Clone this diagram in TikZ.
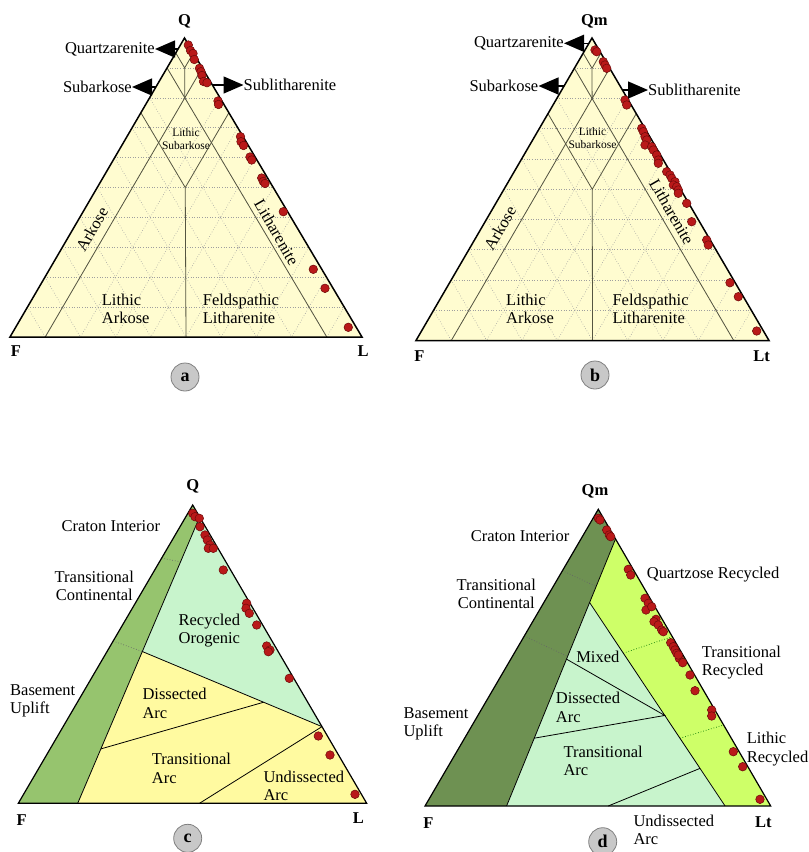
\documentclass[tikz,border=0pt]{standalone}
\usepackage{fontspec}
\setmainfont{Liberation Serif}
\usetikzlibrary{arrows.meta,calc}
\definecolor{folkyellow}{RGB}{255,252,208}
\definecolor{zoneline}{RGB}{85,85,65}
\definecolor{dotred}{RGB}{185,25,25}
\definecolor{dotrim}{RGB}{110,10,10}
\definecolor{craton}{RGB}{150,196,110}
\definecolor{cratondark}{RGB}{110,145,82}
\definecolor{recmint}{RGB}{200,244,204}
\definecolor{arcyellow}{RGB}{255,250,160}
\definecolor{reclime}{RGB}{206,255,104}
\definecolor{tagfill}{RGB}{200,200,200}
\newcommand{\lblsize}{\fontsize{16.5}{18.5}\selectfont}
\newcommand{\tinysize}{\fontsize{11.5}{13}\selectfont}
\tikzset{>=latex}

\begin{document}
\begin{tikzpicture}[x=1pt,y=-1pt,
  lab/.style={font=\lblsize,inner sep=0pt,align=center},
  labl/.style={lab,align=left,anchor=west},
  sublab/.style={font=\tinysize,inner sep=0pt,align=center},
  corner/.style={font=\lblsize\bfseries,inner sep=0pt},
  tag/.style={circle,fill=tagfill,draw=gray,line width=0.8pt,minimum size=28pt,inner sep=0pt,font=\fontsize{18}{18}\selectfont\bfseries},
  zone/.style={draw=zoneline,line width=0.8pt},
  rim/.style={draw=black,line width=1.5pt},
  grid/.style={draw=gray!75,dotted,line width=0.6pt},
  sep/.style={draw=black!60,dotted,line width=0.7pt},
  bigarrow/.style={-{Triangle[length=20pt,width=17pt]},line width=1.4pt},
  dot/.style={fill=dotred,draw=dotrim,line width=0.5pt}]

\useasboundingbox (0,0) rectangle (809,852);

% triangle corners
\coordinate (aF) at (10,337); \coordinate (aL) at (362,337); \coordinate (aQ) at (184.5,38);
\coordinate (bF) at (416,340.5); \coordinate (bL) at (769,340.5); \coordinate (bQ) at (592,38);
\coordinate (cF) at (18.3,803.3); \coordinate (cL) at (366.7,803.3); \coordinate (cQ) at (192.7,505);
\coordinate (dF) at (425,806); \coordinate (dL) at (770.7,806); \coordinate (dQ) at (598.3,509.3);

% panels a and b
\foreach \p in {a,b} {
  \coordinate (F) at (\p F); \coordinate (L) at (\p L); \coordinate (Q) at (\p Q);
  \fill[folkyellow] (F) -- (L) -- (Q) -- cycle;
  \foreach \u in {0.1,0.2,...,0.9} {
    \draw[grid] ($(F)!\u!(Q)$) -- ($(L)!\u!(Q)$);
    \draw[grid] ($(Q)!\u!(F)$) -- ($(L)!\u!(F)$);
    \draw[grid] ($(Q)!\u!(L)$) -- ($(F)!\u!(L)$);
  }
  \draw[zone] (barycentric cs:Q=0.95,F=0.05) -- (barycentric cs:Q=0.9,F=0.05,L=0.05) -- (barycentric cs:Q=0.95,L=0.05);
  \draw[zone] (barycentric cs:Q=0.9,F=0.05,L=0.05) -- (barycentric cs:Q=0.8,F=0.1,L=0.1);
  \draw[zone] (barycentric cs:Q=0.9,F=0.1) -- (barycentric cs:F=0.1,L=0.9);
  \draw[zone] (barycentric cs:Q=0.9,L=0.1) -- (barycentric cs:F=0.9,L=0.1);
  \draw[zone] (barycentric cs:Q=0.75,F=0.25) -- (barycentric cs:Q=0.5,F=0.25,L=0.25) -- (barycentric cs:Q=0.75,L=0.25);
  \draw[zone] (barycentric cs:Q=0.5,F=0.25,L=0.25) -- (barycentric cs:F=0.5,L=0.5);
  \draw[rim] (F) -- (L) -- (Q) -- cycle;
}

% panel c
\coordinate (cS) at ($(cF)!0.1705!(cL)$);
\coordinate (cT) at ($(cQ)!0.04!(cL)$);
\coordinate (cA) at ($(cS)!0.53!(cT)$);
\coordinate (cB) at ($(cL)!0.257!(cQ)$);
\coordinate (cC) at ($(cA)!0.675!(cB)$);
\coordinate (cD) at ($(cS)!0.19!(cT)$);
\coordinate (cE) at ($(cF)!0.52!(cL)$);
\fill[craton] (cF) -- (cQ) -- (cT) -- (cS) -- cycle;
\fill[recmint] (cT) -- (cA) -- (cB) -- cycle;
\fill[arcyellow] (cS) -- (cA) -- (cB) -- (cL) -- cycle;
\draw[sep] ($(cF)!0.822!(cQ)$) -- ($(cS)!0.843!(cT)$);
\draw[sep] ($(cF)!0.544!(cQ)$) -- (cA);
\draw[zone,draw=black] (cS) -- (cT);
\draw[zone,draw=black] (cA) -- (cB);
\draw[zone,draw=black] (cD) -- (cC);
\draw[zone,draw=black] (cE) -- (cB);
\draw[rim,line width=1.2pt] (cF) -- (cL) -- (cQ) -- cycle;

% panel d
\coordinate (dT) at ($(dQ)!0.1!(dL)$);
\coordinate (dS) at ($(dF)!0.236!(dL)$);
\coordinate (dM) at ($(dS)!0.762!(dT)$);
\coordinate (dN) at ($(dF)!0.868!(dL)$);
\coordinate (dP) at ($(dN)!0.445!(dM)$);
\coordinate (dX) at ($(dS)!0.55!(dT)$);
\coordinate (dY) at ($(dS)!0.254!(dT)$);
\coordinate (dZ) at ($(dF)!0.53!(dL)$);
\coordinate (dW) at ($(dN)!0.185!(dM)$);
\fill[cratondark] (dF) -- (dQ) -- (dT) -- (dS) -- cycle;
\fill[reclime] (dT) -- (dL) -- (dN) -- (dM) -- cycle;
\fill[recmint] (dM) -- (dN) -- (dS) -- cycle;
\draw[sep] ($(dF)!0.793!(dQ)$) -- ($(dS)!0.822!(dT)$);
\draw[sep] ($(dF)!0.573!(dQ)$) -- ($(dS)!0.56!(dT)$);
\draw[sep,draw=green!45!black] ($(dN)!0.751!(dM)$) -- ($(dL)!0.571!(dQ)$);
\draw[sep,draw=green!45!black] ($(dN)!0.333!(dM)$) -- ($(dL)!0.273!(dQ)$);
\draw[zone,draw=black] (dS) -- (dT);
\draw[zone,draw=black] (dM) -- (dN);
\draw[zone,draw=black] (dX) -- (dP) -- (dY);
\draw[zone,draw=black] (dZ) -- (dW);
\draw[rim,line width=1.2pt] (dF) -- (dL) -- (dQ) -- cycle;

% samples
\foreach \x/\y in {188.3/45,190.5/50.5,193/53.5,194.3/59.5,199.5/68.3,201/71.7,202/75.5,203.5/81.5,207/82.7,
  218/101,218.5/104.5,240.5/136.7,241/141.7,243.5/145.5,250/157,251.7/160,261.7/178,263.3/181.5,265/183.5,
  283.3/211.7,313.3/269.3,325/288.3,348.3/327.3}
  \filldraw[dot] (\x,\y) circle (4.3);
\foreach \x/\y in {595/50,596.7/51.7,603.3/61.7,605/65,606.7/68.3,625/100,626.7/105,641.7/128.3,643.3/131.7,
  645/136.7,646.7/140,645/145,651.7/146.7,653.3/150,656.7/155,658.3/160,658.3/163.3,666.7/171.7,670/175,
  671.7/178.3,675/181.7,673.3/185,676.7/186.7,678.3/190,678.3/193.3,686.7/203.3,691.7/221.7,706.7/240,
  708.3/245,730/282.7,738.3/296.7,756.7/331}
  \filldraw[dot] (\x,\y) circle (4.3);
\foreach \x/\y in {192.7/513.3,195/516.7,199.3/518.3,200/526.7,205/535,207.3/540,210/545,208.3/548.3,213.3/548.3,
  223.3/570,246.7/603.3,246/608.3,249.3/613.3,256.7/625,266.7/646,270/650,268.3/651.7,289.3/678.3,
  318.3/736,330/755,355/794.3}
  \filldraw[dot] (\x,\y) circle (4.3);
\foreach \x/\y in {598.3/518.3,600/520,606.7/530,609.3/535,610.7/536.7,628.3/569.3,630.7/575,645/598.3,648.3/603.3,
  646/610,651.7/606.7,656/619.3,654/621.7,658.3/625,661.7/630,663.3/631.7,670.7/642.7,673.3/646.7,675/650,
  676.7/653.3,679.3/658.3,682.7/662.7,678.3/655,690/675,695/690.7,711.7/710,711.7/716,733.3/751.7,
  742.7/766.7,760/799.3}
  \filldraw[dot] (\x,\y) circle (4.3);

% labels a
\node[corner] (aQl) at (184.5,21.7) {Q};
\node[corner] (aFl) at (16,351) {F};
\node[corner] (aLl) at (363,351) {L};
\node[tag] (atag) at (185,377) {a};
\node[lab,anchor=east] (aqz) at (155,49) {Quartzarenite};
\node[lab,anchor=east] (asa) at (132,87) {Subarkose};
\node[lab,anchor=west] (asl) at (243.5,85) {Sublitharenite};
\coordinate (aqz-s) at (178,49);
\coordinate (asa-s) at (156,87);
\coordinate (asl-s) at (212,85);
\draw[bigarrow] (aqz-s) -- (aqz.east);
\draw[bigarrow] (asa-s) -- (asa.east);
\draw[bigarrow] (asl-s) -- (asl.west);
\node[sublab] (als) at (186,139.5) {Lithic\\Subarkose};
\node[lab,rotate=60] (aark) at (92,229) {Arkose};
\node[lab,rotate=-60] (alit) at (276.7,232.3) {Litharenite};
\node[labl] (ala) at (101.7,309) {Lithic\\Arkose};
\node[labl] (afl) at (202.7,309) {Feldspathic\\Litharenite};

% labels b
\node[corner] (bQl) at (594.3,21.7) {Qm};
\node[corner] (bFl) at (419.3,356) {F};
\node[corner] (bLl) at (761.7,356) {Lt};
\node[tag] (btag) at (595,375) {b};
\node[lab,anchor=east] (bqz) at (564,43.3) {Quartzarenite};
\node[lab,anchor=east] (bsa) at (538.5,86) {Subarkose};
\node[lab,anchor=west] (bsl) at (648,90) {Sublitharenite};
\coordinate (bqz-s) at (589,43.3);
\coordinate (bsa-s) at (564,86);
\coordinate (bsl-s) at (623,90);
\draw[bigarrow] (bqz-s) -- (bqz.east);
\draw[bigarrow] (bsa-s) -- (bsa.east);
\draw[bigarrow] (bsl-s) -- (bsl.west);
\node[sublab] (bls) at (592.5,138.3) {Lithic\\Subarkose};
\node[lab,rotate=60] (bark) at (500,228.3) {Arkose};
\node[lab,rotate=-60] (blit) at (671.7,211.7) {Litharenite};
\node[labl] (bla) at (506,309) {Lithic\\Arkose};
\node[labl] (bfl) at (612.3,309) {Feldspathic\\Litharenite};

% labels c
\node[corner] (cQl) at (192.7,486.7) {Q};
\node[corner] (cFl) at (21.7,820) {F};
\node[corner] (cLl) at (358.3,818.3) {L};
\node[tag] (ctag) at (187.7,838.3) {c};
\node[lab] (cci) at (110.8,526) {Craton Interior};
\node[lab] (ctc) at (94.3,586) {Transitional\\Continental};
\node[labl] (cbu) at (10,701) {Basement\\Uplift};
\node[lab] (cro) at (209.3,630.5) {Recycled\\Orogenic};
\node[labl] (cda) at (142.3,703.3) {Dissected\\Arc};
\node[labl] (cta) at (151.7,768.3) {Transitional\\Arc};
\node[labl] (cua) at (263.3,785.8) {Undissected\\Arc};

% labels d
\node[corner] (dQl) at (595,491.7) {Qm};
\node[corner] (dFl) at (428.3,822.7) {F};
\node[corner] (dLl) at (763.3,821.7) {Lt};
\node[tag] (dtag) at (602.7,841.7) {d};
\node[lab] (dci) at (520,536) {Craton Interior};
\node[lab] (dtc) at (496.3,594) {Transitional\\Continental};
\node[labl] (dbu) at (403.3,724) {Basement\\Uplift};
\node[labl] (dqr) at (646.7,575) {Quartzose Recycled};
\node[labl] (dtr) at (701.7,662.5) {Transitional\\Recycled};
\node[labl] (dlr) at (746.7,748.8) {Lithic\\Recycled};
\node[lab] (dmx) at (597.8,656.7) {Mixed};
\node[labl] (dda) at (555.7,707.5) {Dissected\\Arc};
\node[labl] (dta) at (563.3,760.8) {Transitional\\Arc};
\node[labl] (dua) at (633.3,829.7) {Undissected\\Arc};
\end{tikzpicture}
\end{document}
